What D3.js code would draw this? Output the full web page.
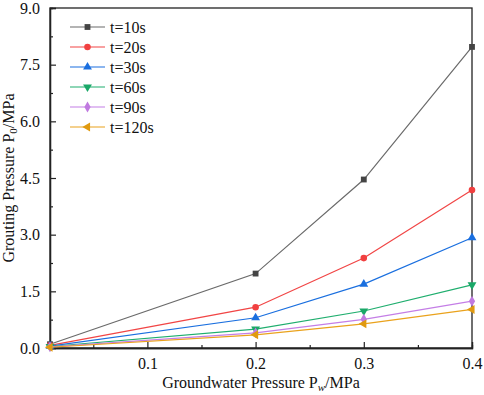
<!DOCTYPE html>
<html>
<head>
<meta charset="utf-8">
<script src="https://cdn.jsdelivr.net/npm/d3@7"></script>
<style>
  body { margin: 0; background: #fff; }
  svg text { font-family: "Liberation Serif", "Times New Roman", serif !important; fill: #111; }
</style>
</head>
<body>
<div id="chart"></div>
<script>
// data
const pw = [0.01, 0.2, 0.3, 0.4];
const labels = ["t=10s", "t=20s", "t=30s", "t=60s", "t=90s", "t=120s"];
const t10 = [0.10, 1.97, 4.46, 7.97];
const t20 = [0.07, 1.08, 2.38, 4.18];
const t30 = [0.05, 0.80, 1.69, 2.92];
const t60 = [0.04, 0.50, 0.98, 1.67];
const t90 = [0.03, 0.40, 0.76, 1.24];
const t120 = [0.02, 0.35, 0.64, 1.02];
const xTicks = [0.1, 0.2, 0.3, 0.4];
const yTicks = [0, 1.5, 3, 4.5, 6, 7.5, 9];

const seriesValues = [t10, t20, t30, t60, t90, t120];
const lineColors = ["#6a6a6a", "#f14545", "#1a6fdf", "#1fae6e", "#c47ee6", "#eaa21c"];
const markColors = ["#444444", "#f14040", "#1a6fdf", "#1aa868", "#c07ae0", "#e09a10"];
const symbols = [d3.symbolSquare, d3.symbolCircle, d3.symbolTriangle, "down", d3.symbolDiamond, "left"];

const margin = { top: 8, right: 12, bottom: 47, left: 50 },
      width = 484 - margin.left - margin.right,
      height = 395 - margin.top - margin.bottom;

const svg = d3.select("#chart")
              .append("svg")
              .attr("width", 484)
              .attr("height", 395)
              .append("g")
              .attr("transform", `translate(${margin.left},${margin.top})`);

const x = d3.scaleLinear().domain([0.01, 0.4]).range([0, width]);
const y = d3.scaleLinear().domain([0, 9]).range([height, 0]);

// frame
svg.append("rect")
   .attr("width", width)
   .attr("height", height)
   .attr("fill", "none")
   .attr("stroke", "#222")
   .attr("stroke-width", 1.3);

// x axis (ticks inward)
svg.append("g")
   .attr("transform", `translate(0,${height})`)
   .call(d3.axisBottom(x).tickValues(xTicks).tickSize(-6).tickPadding(10).tickFormat(d3.format(".1f")));
svg.append("g")
   .attr("transform", `translate(0,${height})`)
   .call(d3.axisBottom(x).tickValues([0.05, 0.15, 0.25, 0.35]).tickSize(-3).tickFormat(""));

// y axis
svg.append("g")
   .call(d3.axisLeft(y).tickValues(yTicks).tickSize(-6).tickPadding(10).tickFormat(d3.format(".1f")));
svg.append("g")
   .call(d3.axisLeft(y).tickValues(d3.range(0.75, 9, 1.5)).tickSize(-3).tickFormat(""));

svg.selectAll("g").attr("font-family", null);
svg.selectAll(".domain").attr("stroke", "#222").attr("stroke-width", 1.3);
svg.selectAll(".tick line").attr("stroke", "#222").attr("stroke-width", 1.2);
svg.selectAll(".tick text")
   .style("font-size", "16px")
   .attr("fill", "#111");

// axis titles
svg.append("text")
   .attr("x", width / 2)
   .attr("y", height + 40)
   .attr("text-anchor", "middle")
   .style("font-size", "16px")
   .html('Groundwater Pressure P<tspan dy="3" font-size="11" font-style="italic">w</tspan><tspan dy="-3">/MPa</tspan>');

svg.append("text")
   .attr("transform", `translate(-36,${height / 2}) rotate(-90)`)
   .attr("text-anchor", "middle")
   .style("font-size", "16px")
   .html('Grouting Pressure P<tspan dy="3" font-size="11">0</tspan><tspan dy="-3">/MPa</tspan>');

function markerPath(sym, size) {
  if (sym === "down") return [d3.symbol(d3.symbolTriangle, size)(), "rotate(180)"];
  if (sym === "left") return [d3.symbol(d3.symbolTriangle, size)(), "rotate(-90)"];
  return [d3.symbol(sym, size)(), ""];
}

const line = d3.line()
               .x((d, i) => x(pw[i]))
               .y(d => y(d));

seriesValues.forEach((vals, k) => {
  svg.append("path")
     .datum(vals)
     .attr("d", line)
     .attr("fill", "none")
     .attr("stroke", lineColors[k])
     .attr("stroke-width", 1.2);

  const [p, rot] = markerPath(symbols[k], 34);
  svg.selectAll(null)
     .data(vals)
     .join("path")
     .attr("d", p)
     .attr("transform", (d, i) => `translate(${x(pw[i])},${y(d)}) ${rot}`)
     .attr("fill", markColors[k]);
});

// legend
const legend = svg.append("g").attr("transform", "translate(20,19)");
labels.forEach((lab, k) => {
  const g = legend.append("g").attr("transform", `translate(0,${k * 20})`);
  g.append("line")
   .attr("x1", 0).attr("x2", 35)
   .attr("stroke", lineColors[k])
   .attr("stroke-width", 1.2);
  const [p, rot] = markerPath(symbols[k], 34);
  g.append("path")
   .attr("d", p)
   .attr("transform", `translate(17.5,0) ${rot}`)
   .attr("fill", markColors[k]);
  g.append("text")
   .attr("x", 40)
   .attr("y", 5.5)
   .style("font-size", "16px")
   .text(lab);
});
</script>
</body>
</html>
